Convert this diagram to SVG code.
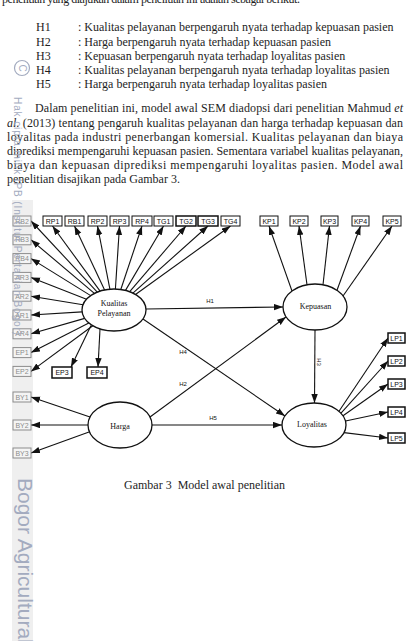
<svg xmlns="http://www.w3.org/2000/svg" width="409" height="641" viewBox="0 0 409 641">
<style>
.t{font-family:"Liberation Serif","Times New Roman",serif;font-size:12px;fill:#1e1e1e}
.it{font-style:italic}
.box rect{fill:#fff;stroke:#111;stroke-width:1}
.box text{font-family:"Liberation Sans",Arial,sans-serif;font-size:7px;fill:#111;text-anchor:middle}
.gbox rect{fill:#f4f4f4;stroke:#8c8c8c;stroke-width:1}
.gbox text{font-family:"Liberation Sans",Arial,sans-serif;font-size:7px;fill:#8c8c8c;text-anchor:middle}
.bold rect{stroke-width:1.5}
.lat ellipse{fill:#fff;stroke:#111;stroke-width:1.3}
.lat text{font-family:"Liberation Serif","Times New Roman",serif;font-size:8px;text-anchor:middle;fill:#111}
.conn line{stroke:#111;stroke-width:1.1;marker-end:url(#ah)}
.hl{font-family:"Liberation Sans",Arial,sans-serif;font-size:6px;fill:#111;text-anchor:middle}
.wm{font-family:"Liberation Sans",Arial,sans-serif;fill:#a3abbf}
</style>
<defs>
<marker id="ah" markerUnits="userSpaceOnUse" markerWidth="10" markerHeight="8" refX="9" refY="3.2" orient="auto"><path d="M0,0 L9,3.2 L0,6.4 z" fill="#111"/></marker>
</defs>
<rect x="0" y="0" width="409" height="641" fill="#fff"/>
<rect x="12" y="200" width="21" height="441" fill="#efefef"/>

<g id="body-text" class="t">
<text x="2" y="3" textLength="298" lengthAdjust="spacing">penelitian yang diajukan dalam penelitian ini adalah sebagai berikut.</text>
<text x="36" y="31">H1</text><text x="78" y="31">: Kualitas pelayanan berpengaruh nyata terhadap kepuasan pasien</text>
<text x="36" y="45.5">H2</text><text x="78" y="45.5">: Harga berpengaruh nyata terhadap kepuasan pasien</text>
<text x="36" y="59.5">H3</text><text x="78" y="59.5">: Kepuasan berpengaruh nyata terhadap loyalitas pasien</text>
<text x="36" y="74">H4</text><text x="78" y="74">: Kualitas pelayanan berpengaruh nyata terhadap loyalitas pasien</text>
<text x="36" y="88">H5</text><text x="78" y="88">: Harga berpengaruh nyata terhadap loyalitas pasien</text>
<text x="35" y="112" textLength="368" lengthAdjust="spacing">Dalam penelitian ini, model awal SEM diadopsi dari penelitian Mahmud <tspan class="it">et</tspan></text>
<text x="7" y="126.5" textLength="396" lengthAdjust="spacing"><tspan class="it">al.</tspan> (2013) tentang pengaruh kualitas pelayanan dan harga terhadap kepuasan dan</text>
<text x="7" y="140.5" textLength="396" lengthAdjust="spacing">loyalitas pada industri penerbangan komersial. Kualitas pelayanan dan biaya</text>
<text x="7" y="155" textLength="396" lengthAdjust="spacing">diprediksi mempengaruhi kepuasan pasien. Sementara variabel kualitas pelayanan,</text>
<text x="7" y="169" textLength="396" lengthAdjust="spacing">biaya dan kepuasan diprediksi mempengaruhi loyalitas pasien. Model awal</text>
<text x="7" y="183">penelitian disajikan pada Gambar 3.</text>
<text x="124" y="489">Gambar 3 <tspan dx="3">Model awal penelitian</tspan></text>
</g>

<g id="connectors" class="conn">
<line x1="100.1" y1="291.1" x2="52.5" y2="226"/>
<line x1="104.6" y1="289.9" x2="74.5" y2="226"/>
<line x1="109.9" y1="289.2" x2="97.5" y2="226"/>
<line x1="115.4" y1="289" x2="119.5" y2="226"/>
<line x1="120.8" y1="289.5" x2="142" y2="226"/>
<line x1="125.5" y1="290.4" x2="163.5" y2="226"/>
<line x1="129.7" y1="291.7" x2="186" y2="226"/>
<line x1="132.9" y1="293.1" x2="208" y2="226"/>
<line x1="135.5" y1="294.5" x2="230.5" y2="226"/>
<line x1="97.3" y1="292.1" x2="31" y2="221"/>
<line x1="94.4" y1="293.4" x2="31" y2="239.8"/>
<line x1="90.7" y1="295.6" x2="31" y2="258.6"/>
<line x1="86.5" y1="299.2" x2="31" y2="277.4"/>
<line x1="83" y1="304.8" x2="31" y2="296.2"/>
<line x1="82.1" y1="311.9" x2="31" y2="315"/>
<line x1="84.7" y1="318.4" x2="31" y2="333.8"/>
<line x1="88.8" y1="322.9" x2="31" y2="352.6"/>
<line x1="92.8" y1="325.7" x2="31" y2="371.4"/>
<line x1="91" y1="325.5" x2="71" y2="367"/>
<line x1="100" y1="329" x2="98" y2="367"/>
<line x1="90" y1="417" x2="31" y2="397"/>
<line x1="88" y1="425" x2="31" y2="425"/>
<line x1="89" y1="432" x2="31" y2="453"/>
<line x1="292" y1="291" x2="269" y2="226"/>
<line x1="307" y1="284.7" x2="299" y2="226"/>
<line x1="323" y1="284.7" x2="329.5" y2="226"/>
<line x1="337" y1="290.3" x2="360.5" y2="226"/>
<line x1="343" y1="296" x2="392" y2="226"/>
<line x1="339" y1="411.3" x2="388" y2="338"/>
<line x1="341" y1="413.2" x2="388" y2="361"/>
<line x1="343" y1="415.7" x2="388" y2="384"/>
<line x1="345.5" y1="421" x2="388" y2="412"/>
<line x1="344" y1="432.6" x2="388" y2="438"/>
<line x1="146" y1="309" x2="283" y2="307"/>
<line x1="143" y1="319" x2="285" y2="416"/>
<line x1="150" y1="417" x2="286" y2="317"/>
<line x1="152" y1="425" x2="282" y2="425"/>
<line x1="315" y1="330" x2="314.5" y2="403"/>
</g>
<g id="path-labels" class="hl">
<text x="210" y="303">H1</text>
<text x="183" y="354">H4</text>
<text x="183" y="386">H2</text>
<text x="213" y="420">H5</text>
<text transform="translate(317,362) rotate(90)">H3</text>
</g>

<g id="RB2" class="gbox"><rect x="13" y="216" width="18" height="10"/><text x="22" y="223.5">RB2</text></g>
<g id="RB3" class="gbox"><rect x="13" y="234.8" width="18" height="10"/><text x="22" y="242.3">RB3</text></g>
<g id="RB4" class="gbox"><rect x="13" y="253.6" width="18" height="10"/><text x="22" y="261.1">RB4</text></g>
<g id="AR3" class="gbox"><rect x="13" y="272.4" width="18" height="10"/><text x="22" y="279.9">AR3</text></g>
<g id="AR2" class="gbox"><rect x="13" y="291.2" width="18" height="10"/><text x="22" y="298.7">AR2</text></g>
<g id="AR1" class="gbox"><rect x="13" y="310" width="18" height="10"/><text x="22" y="317.5">AR1</text></g>
<g id="AR4" class="gbox"><rect x="13" y="328.8" width="18" height="10"/><text x="22" y="336.3">AR4</text></g>
<g id="EP1" class="gbox"><rect x="13" y="347.6" width="18" height="10"/><text x="22" y="355.1">EP1</text></g>
<g id="EP2" class="gbox"><rect x="13" y="366.4" width="18" height="10"/><text x="22" y="373.9">EP2</text></g>
<g id="BY1" class="gbox"><rect x="13" y="392" width="18" height="10"/><text x="22" y="399.5">BY1</text></g>
<g id="BY2" class="gbox"><rect x="13" y="420" width="18" height="10"/><text x="22" y="427.5">BY2</text></g>
<g id="BY3" class="gbox"><rect x="13" y="448" width="18" height="10"/><text x="22" y="455.5">BY3</text></g>

<g id="RP1" class="box"><rect x="43" y="216" width="19" height="10"/><text x="52.5" y="223.5">RP1</text></g>
<g id="RB1" class="box"><rect x="65" y="216" width="19" height="10"/><text x="74.5" y="223.5">RB1</text></g>
<g id="RP2" class="box"><rect x="88" y="216" width="19" height="10"/><text x="97.5" y="223.5">RP2</text></g>
<g id="RP3" class="box"><rect x="110" y="216" width="19" height="10"/><text x="119.5" y="223.5">RP3</text></g>
<g id="RP4" class="box"><rect x="132" y="216" width="20" height="10"/><text x="142" y="223.5">RP4</text></g>
<g id="TG1" class="box"><rect x="154" y="216" width="19" height="10"/><text x="163.5" y="223.5">TG1</text></g>
<g id="TG2" class="box bold"><rect x="176" y="216" width="20" height="10"/><text x="186" y="223.5">TG2</text></g>
<g id="TG3" class="box bold"><rect x="198" y="216" width="20" height="10"/><text x="208" y="223.5">TG3</text></g>
<g id="TG4" class="box"><rect x="221" y="216" width="19" height="10"/><text x="230.5" y="223.5">TG4</text></g>
<g id="KP1" class="box"><rect x="260" y="216" width="18" height="10"/><text x="269" y="223.5">KP1</text></g>
<g id="KP2" class="box"><rect x="290" y="216" width="18" height="10"/><text x="299" y="223.5">KP2</text></g>
<g id="KP3" class="box"><rect x="321" y="216" width="17" height="10"/><text x="329.5" y="223.5">KP3</text></g>
<g id="KP4" class="box"><rect x="352" y="216" width="17" height="10"/><text x="360.5" y="223.5">KP4</text></g>
<g id="KP5" class="box"><rect x="383" y="216" width="18" height="10"/><text x="392" y="223.5">KP5</text></g>
<g id="EP3" class="box bold"><rect x="52" y="367" width="20" height="11"/><text x="62" y="375">EP3</text></g>
<g id="EP4" class="box bold"><rect x="87" y="367" width="20" height="11"/><text x="97" y="375">EP4</text></g>
<g id="LP1" class="box bold"><rect x="388" y="333" width="17" height="10"/><text x="396.5" y="340.5">LP1</text></g>
<g id="LP2" class="box bold"><rect x="388" y="356" width="17" height="10"/><text x="396.5" y="363.5">LP2</text></g>
<g id="LP3" class="box bold"><rect x="388" y="379" width="17" height="10"/><text x="396.5" y="386.5">LP3</text></g>
<g id="LP4" class="box bold"><rect x="388" y="407" width="17" height="10"/><text x="396.5" y="414.5">LP4</text></g>
<g id="LP5" class="box bold"><rect x="388" y="433" width="17" height="10"/><text x="396.5" y="440.5">LP5</text></g>

<g id="Kualitas" class="lat"><ellipse cx="114" cy="310" rx="32" ry="21"/><text x="114" y="306">Kualitas</text><text x="114" y="315.5">Pelayanan</text></g>
<g id="Harga" class="lat"><ellipse cx="120" cy="425" rx="32" ry="23"/><text x="120" y="428.5">Harga</text></g>
<g id="Kepuasan" class="lat"><ellipse cx="315" cy="307" rx="32" ry="23"/><text x="315.5" y="308.5">Kepuasan</text></g>
<g id="Loyalitas" class="lat"><ellipse cx="314" cy="425" rx="32" ry="22"/><text x="312" y="426.5">Loyalitas</text></g>

<g id="watermark" class="wm">
<circle cx="22" cy="68" r="7.5" fill="none" stroke="#a3abbf" stroke-width="1.2"/>
<text transform="translate(22,68) rotate(90)" font-size="10" text-anchor="middle" dy="3.5">C</text>
<text transform="translate(14,97) rotate(90)" font-size="10" textLength="238" lengthAdjust="spacing">Hak cipta milik IPB (Institut Pertanian Bogor)</text>
<text transform="translate(18,478) rotate(90)" font-size="21">Bogor Agricultural</text>
</g>
</svg>
